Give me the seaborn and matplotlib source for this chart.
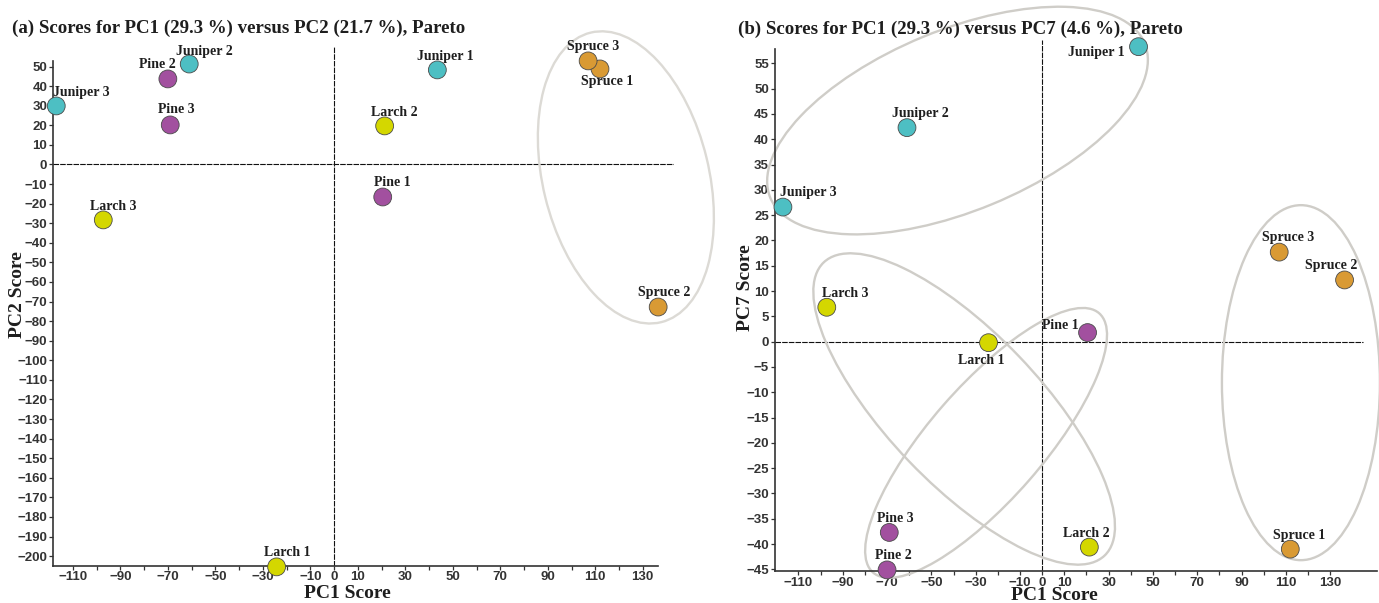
import matplotlib
matplotlib.use("Agg")
import matplotlib.pyplot as plt
import matplotlib.font_manager as fm
import numpy as np
import pandas as pd
import seaborn as sns
from matplotlib.patches import Ellipse
from matplotlib.transforms import ScaledTranslation

# ---- data -------------------------------------------------------------
samples = ["Juniper 1", "Juniper 2", "Juniper 3",
           "Larch 1", "Larch 2", "Larch 3",
           "Pine 1", "Pine 2", "Pine 3",
           "Spruce 1", "Spruce 2", "Spruce 3"]
species = ["Juniper"] * 3 + ["Larch"] * 3 + ["Pine"] * 3 + ["Spruce"] * 3
pc1 = [43.5, -61.0, -117.0, -24.2, 21.3, -97.2, 20.5, -70.0, -69.0, 112.0, 136.5, 107.0]
pc2 = [48.3, 51.3, 29.9, -205.5, 19.7, -28.3, -16.6, 43.7, 20.2, 48.8, -72.8, 52.9]
pc7 = [58.3, 42.3, 26.6, -0.2, -40.6, 6.8, 1.8, -45.1, -37.7, -41.0, 12.2, 17.7]

title_a = "(a) Scores for PC1 (29.3 %) versus PC2 (21.7 %), Pareto"
title_b = "(b) Scores for PC1 (29.3 %) versus PC7 (4.6 %), Pareto"

x_tick_values = list(range(-110, 131, 10))
x_tick_labels = [-110, -90, -70, -50, -30, -10, 0, 10, 30, 50, 70, 90, 110, 130]
y_ticks_a = list(range(-200, 51, 10))
y_ticks_b = list(range(-45, 56, 5))

palette = {"Juniper": "#4dbfc3", "Larch": "#d4d700",
           "Pine": "#a2509f", "Spruce": "#d99a34"}

# label offsets in pixels (dx right, dy up) relative to each marker
offsets_a = [(8, 13), (15, 13), (25, 13), (11, 14), (10, 13), (10, 13),
             (10, 14), (-10, 14), (6, 15), (7, -13), (6, 15), (5, 14)]
offsets_b = [(-42, -6), (13, 14), (25, 15), (-7, -18), (-3, 14), (18, 14),
             (-27, 7), (6, 14), (6, 13.5), (9, 14), (-13, 14.5), (9, 14.5)]

# group ellipses: centre (data units), width/height (inches), angle (deg)
ellipses_a = [((122.9, -6.6), 2.98, 1.66, 103.7)]
ellipses_b = [((-38.2, 43.7), 4.05, 1.81, 22.4),
              ((-35.2, -13.3), 4.06, 1.52, -46.2),
              ((-25.3, -20.0), 3.44, 1.14, 48.9),
              ((116.8, -8.1), 3.55, 1.58, 90.0)]

df = pd.DataFrame({"Sample": samples, "Species": species,
                   "PC1": pc1, "PC2": pc2, "PC7": pc7})

# ---- style ------------------------------------------------------------
sns.set_theme(style="ticks")
plt.rcParams["font.family"] = ["Liberation Serif", "DejaVu Serif"]
installed = {f.name for f in fm.fontManager.ttflist}
tick_family = ["Liberation Sans Narrow"] if "Liberation Sans Narrow" in installed \
    else ["Liberation Sans"]

TEXT = "#1e1e1e"
AXIS = "#333333"

fig = plt.figure(figsize=(13.79, 6.03), dpi=100)
ax_a = fig.add_axes([0.03822, 0.06153, 0.45025, 0.86053])
ax_b = fig.add_axes([0.56164, 0.05240, 0.43669, 0.88109])


def minus(v):
    return str(v).replace("-", "\u2212")


def draw_panel(ax, ycol, xlim, ylim, xbound, ybound, hline_end, yticks,
               offsets, ellipses, ell_color):
    for (cx, cy), w, h, ang in ellipses:
        tr = fig.dpi_scale_trans + ScaledTranslation(cx, cy, ax.transData)
        e = Ellipse((0, 0), w, h, angle=ang, transform=tr, fill=False,
                    edgecolor=ell_color, linewidth=1.7, clip_on=False, zorder=2)
        ax.add_artist(e)

    ax.hlines(0, xlim[0], hline_end, colors="#111111",
              linestyles=(0, (5, 1)), linewidth=0.8, zorder=1)
    ax.vlines(0, ylim[0], ylim[1], colors="#111111",
              linestyles=(0, (5, 1)), linewidth=0.8, zorder=1)

    sns.scatterplot(data=df, x="PC1", y=ycol, hue="Species", palette=palette,
                    s=165, edgecolor="#4a4a4a", linewidth=0.6, legend=False,
                    ax=ax, zorder=4, clip_on=False)

    for (name, xv, yv), (dx, dy) in zip(df[["Sample", "PC1", ycol]].values, offsets):
        ax.annotate(name, (xv, yv), xytext=(dx, dy), textcoords="offset pixels",
                    ha="center", va="center", fontsize=10, fontweight="bold",
                    color=TEXT, zorder=5, annotation_clip=False)

    ax.set_xlim(*xlim)
    ax.set_ylim(*ylim)
    ax.set_xlabel("")
    ax.set_ylabel("")

    ax.set_xticks(x_tick_values)
    ax.set_xticklabels([minus(v) if v in x_tick_labels else "" for v in x_tick_values],
                       fontfamily=tick_family, fontweight="bold", fontsize=9.5, color=AXIS)
    ax.set_yticks(yticks)
    ax.set_yticklabels([minus(v) for v in yticks],
                       fontfamily=tick_family, fontweight="bold", fontsize=9.5, color=AXIS)
    ax.tick_params(axis="both", direction="out", length=3, width=0.9,
                   colors=AXIS, pad=1.0, bottom=True, left=True)

    for side in ("top", "right"):
        ax.spines[side].set_visible(False)
    for side in ("left", "bottom"):
        ax.spines[side].set_color(AXIS)
        ax.spines[side].set_linewidth(1.2)
    ax.spines["bottom"].set_bounds(*xbound)
    ax.spines["left"].set_bounds(*ybound)
    ax.set_facecolor("white")


draw_panel(ax_a, "PC2", (-118.5, 143.0), (-205.0, 60.0), (-118.5, 136.4),
           (-205.0, 53.0), 143.0, y_ticks_a, offsets_a, ellipses_a, "#dcdad5")
draw_panel(ax_b, "PC7", (-120.8, 151.0), (-45.4, 59.6), (-120.8, 151.0),
           (-45.4, 57.8), 144.6, y_ticks_b, offsets_b, ellipses_b, "#cfcdc8")

W, H = 1379.0, 603.0
fig.text(12 / W, 1 - 28.5 / H, title_a, ha="left", va="center",
         fontsize=13.6, fontweight="bold", color=TEXT)
fig.text(738 / W, 1 - 29 / H, title_b, ha="left", va="center",
         fontsize=13.6, fontweight="bold", color=TEXT)

fig.text(347 / W, 1 - 593 / H, "PC1 Score", ha="center", va="center",
         fontsize=14, fontweight="bold", color=TEXT)
fig.text(1054 / W, 1 - 595 / H, "PC1 Score", ha="center", va="center",
         fontsize=14, fontweight="bold", color=TEXT)
fig.text(17 / W, 1 - 295 / H, "PC2 Score", ha="center", va="center",
         rotation=90, fontsize=14, fontweight="bold", color=TEXT)
fig.text(745 / W, 1 - 288 / H, "PC7 Score", ha="center", va="center",
         rotation=90, fontsize=14, fontweight="bold", color=TEXT)

fig.savefig("out.png", dpi=100, facecolor="white")
